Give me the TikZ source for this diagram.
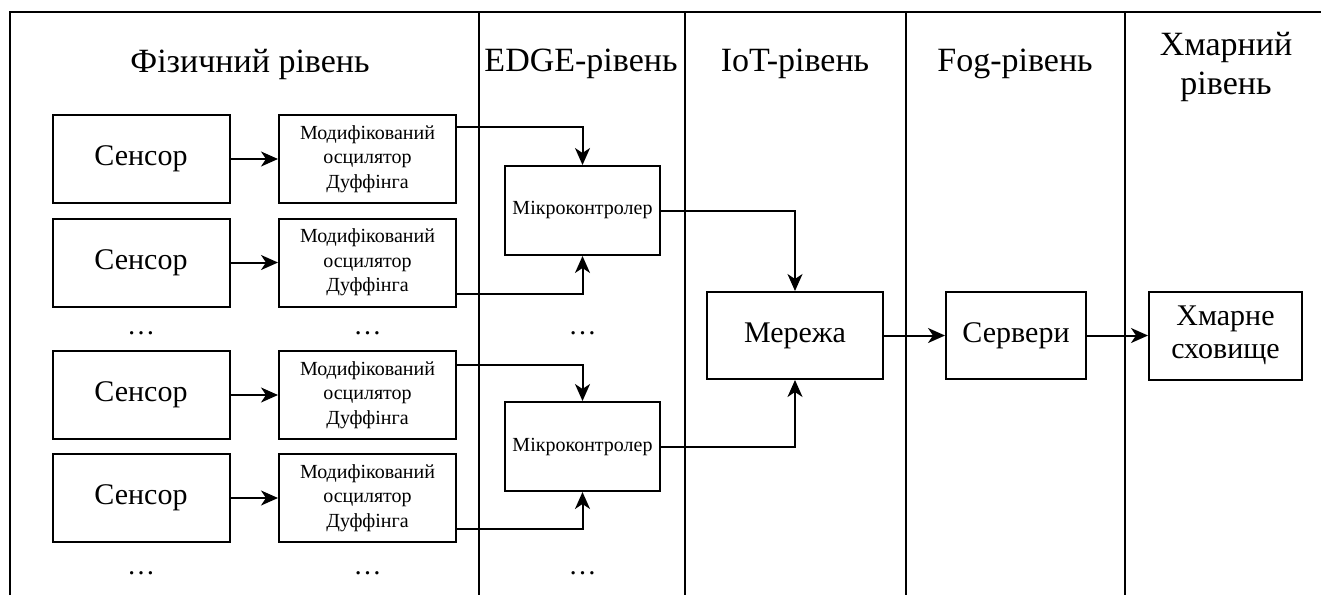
\documentclass[tikz,border=0pt]{standalone}
\usepackage{fontspec}
\setmainfont{Liberation Serif}
\usetikzlibrary{arrows.meta}
\tikzstyle{line} = [draw, line width=1pt, -{Stealth[length=8.5pt,width=7.5pt,inset=2.5pt]}]
\tikzstyle{frame} = [draw, line width=1pt]
\tikzstyle{block} = [draw, line width=1pt, inner sep=1pt, align=center]
\tikzstyle{big} = [block, minimum width=88.5pt, minimum height=44pt, font=\fontsize{15}{16.5}\selectfont]
\tikzstyle{duff} = [block, minimum width=88.5pt, minimum height=44pt, font=\fontsize{10}{12.3}\selectfont]
\tikzstyle{mcu} = [block, minimum width=77.5pt, minimum height=44.5pt, font=\fontsize{10}{12.3}\selectfont]
\tikzstyle{head} = [align=center, font=\fontsize{17}{19.5}\selectfont]
\tikzstyle{dots} = [font=\fontsize{14}{15}\selectfont]

\begin{document}
\begin{tikzpicture}[x=0.5pt,y=-0.5pt]
\useasboundingbox (0,0) rectangle (1321,595);
% frame and level borders
\draw [frame] (10,595) -- (10,12) -- (1321,12);
\foreach \x in {479,685,906,1125}
  \draw [frame] (\x,12) -- (\x,595);
% level titles
\node (hphys) at (250,64) [head] {Фізичний рівень};
\node (hedge) at (581,64) [head] {EDGE-рівень};
\node (hiot) at (795,64) [head] {IoT-рівень};
\node (hfog) at (1015,64) [head] {Fog-рівень};
\node (hcloud) at (1226,67) [head] {Хмарний\\рівень};
% physical level
\node (s1) at (141,159) [big] {Сенсор};
\node (s2) at (141,262.5) [big] {Сенсор};
\node (s3) at (141,395) [big] {Сенсор};
\node (s4) at (141,498) [big] {Сенсор};
\node (d1) at (367.5,159) [duff] {Модифікований\\осцилятор\\Дуффінга};
\node (d2) at (367.5,262.5) [duff] {Модифікований\\осцилятор\\Дуффінга};
\node (d3) at (367.5,395) [duff] {Модифікований\\осцилятор\\Дуффінга};
\node (d4) at (367.5,498) [duff] {Модифікований\\осцилятор\\Дуффінга};
\node (sdots1) at (141,333) [dots] {\dots};
\node (ddots1) at (367.5,333) [dots] {\dots};
\node (sdots2) at (141,573) [dots] {\dots};
\node (ddots2) at (367.5,573) [dots] {\dots};
% edge level
\node (mc1) at (582.5,210.5) [mcu] {Мікроконтролер};
\node (mc2) at (582.5,446.5) [mcu] {Мікроконтролер};
\node (mdots1) at (582.5,333) [dots] {\dots};
\node (mdots2) at (582.5,573) [dots] {\dots};
% iot, fog and cloud levels
\node (net) at (795,335.5) [big, minimum width=88pt, minimum height=43.5pt] {Мережа};
\node (srv) at (1016,335.5) [big, minimum width=70pt, minimum height=43.5pt] {Сервери};
\node (cloud) at (1225.5,335.5) [big, minimum width=76.5pt] {Хмарне\\сховище};
% draw lines
\path [line] (s1) -- (d1);
\path [line] (s2) -- (d2);
\path [line] (s3) -- (d3);
\path [line] (s4) -- (d4);
\path [line] ([yshift=-6.5pt]d1.north east) -| (mc1.north);
\path [line] ([yshift=7pt]d2.south east) -| (mc1.south);
\path [line] ([yshift=-7.5pt]d3.north east) -| (mc2.north);
\path [line] ([yshift=7pt]d4.south east) -| (mc2.south);
\path [line] (mc1.east) -| (net.north);
\path [line] (mc2.east) -| (net.south);
\path [line] (net) -- (srv);
\path [line] (srv) -- (cloud);
\end{tikzpicture}
\end{document}
